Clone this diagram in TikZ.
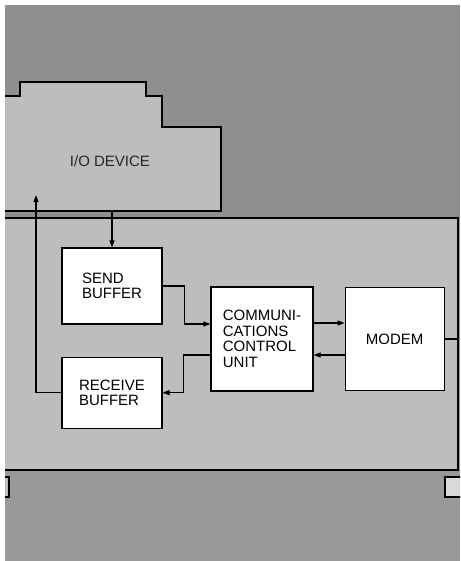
\documentclass[tikz,border=0pt]{standalone}
\usepackage{fontspec}
\setmainfont{Liberation Sans}
\usetikzlibrary{arrows.meta, positioning}

\definecolor{darkbg}{gray}{0.56}
\definecolor{lowbg}{gray}{0.60}
\definecolor{panelbg}{gray}{0.74}

\begin{document}
\begin{tikzpicture}[
  x=1pt, y=-1pt,
  box/.style={draw, fill=white, line width=1.2pt, align=left, inner sep=0pt,
    font=\fontsize{15}{15.5}\selectfont},
  arr/.style={-{Triangle[length=7pt, width=5pt]}, line width=1.1pt}
]
\useasboundingbox (0,0) rectangle (460,561);

% backgrounds
\begin{scope}
  \clip (5,5) rectangle (460,561);
  \fill[darkbg] (5,5) rectangle (460,218);
  \fill[lowbg] (5,218) rectangle (460,561);
  \fill[panelbg] (5,96) -- (20,96) -- (20,82) -- (146,82) -- (146,96) -- (162,96)
    -- (162,127) -- (221,127) -- (221,211) -- (5,211) -- cycle;
  \draw[line width=1.2pt] (5,96) -- (20,96) -- (20,82) -- (146,82) -- (146,96)
    -- (162,96) -- (162,127) -- (221,127) -- (221,211) -- (5,211);
  \fill[panelbg] (5,218) rectangle (458,470);
  \draw[line width=1.2pt] (5,218) -- (458,218) -- (458,470) -- (5,470);
  \draw[line width=1.2pt, fill=panelbg] (-8,477) rectangle (9,497);
  \draw[line width=1.2pt, fill=gray!30] (445,477) rectangle (470,497);
\end{scope}

\node[font=\fontsize{15}{15.5}\selectfont, text=black!85] (iodev) at (110,161) {I/O DEVICE};
\coordinate (ioout) at (112,211);
\coordinate (ioin) at (36,195);
\coordinate (lineout) at (458,339);

\node[box, minimum width=100pt, minimum height=76pt] (sendbuf) at (112,286) {SEND\\BUFFER};
\node[box, minimum width=100pt, minimum height=71pt, below=32pt of sendbuf] (recvbuf) {RECEIVE\\BUFFER};
\node[box, minimum width=102pt, minimum height=104pt] (ccu) at (262,339) {COMMUNI-\\CATIONS\\CONTROL\\UNIT};
\node[box, minimum width=99pt, minimum height=103pt, right=31pt of ccu, align=center] (modem) {MODEM};

\draw[arr] (ioout) -- (sendbuf.north);
\draw[arr] (sendbuf.east) -- ++(22,0) |- ([yshift=15pt]ccu.west);
\draw[arr] ([yshift=-16pt]ccu.west) -- ++(-27,0) |- (recvbuf.east);
\draw[arr] ([yshift=16pt]ccu.east) -- ([yshift=16pt]ccu.east -| modem.west);
\draw[arr] ([yshift=-16pt]modem.west) -- ([yshift=-16pt]modem.west -| ccu.east);
\draw[line width=1.1pt] (modem.east) -- (lineout);
\draw[arr] (recvbuf.west) -| (ioin);
\end{tikzpicture}
\end{document}
